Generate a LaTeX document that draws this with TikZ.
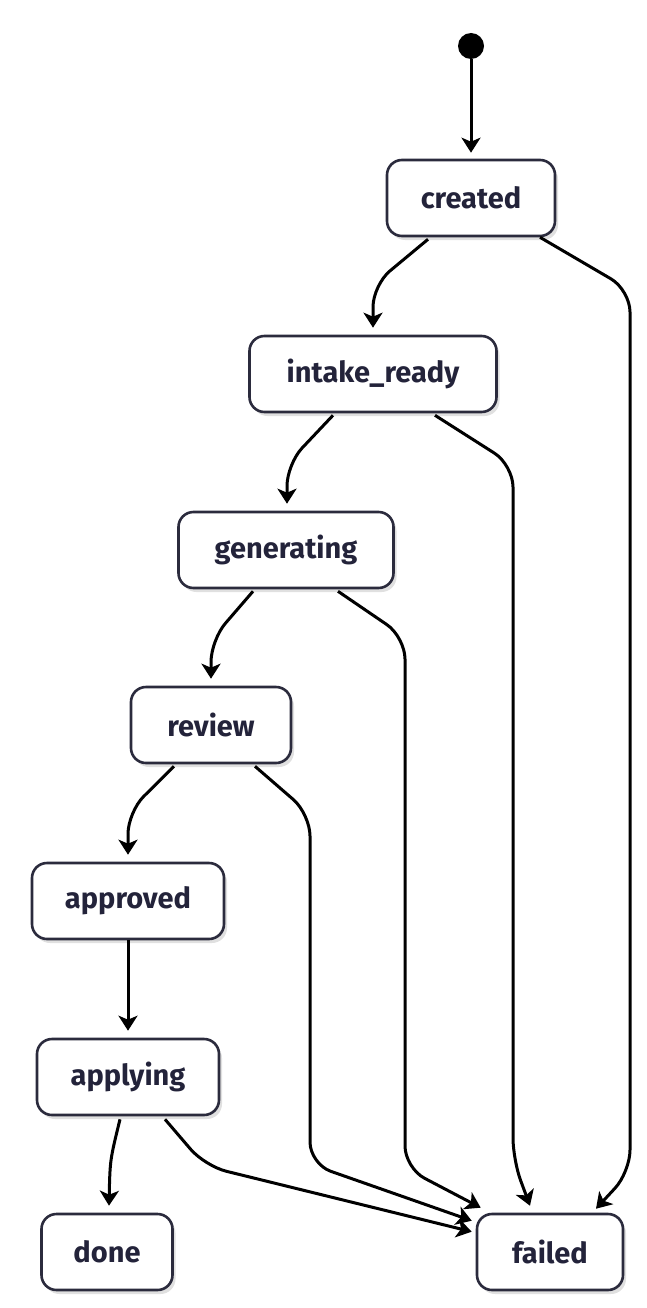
\documentclass[tikz,border=0pt]{standalone}
\usepackage{fontspec}
\setmainfont{Fira Sans}
\usetikzlibrary{arrows.meta}
\usetikzlibrary{calc}
\usetikzlibrary{shadows}

\definecolor{stateline}{HTML}{2B2B3D}
\definecolor{statetext}{HTML}{23233A}
\tikzset{
  state/.style={draw=stateline, line width=2.6pt, fill=white, rounded corners=15pt,
    minimum height=76pt, inner sep=0pt, text=statetext,
    font=\fontsize{29}{34}\selectfont\bfseries,
    drop shadow={shadow xshift=3pt, shadow yshift=-4pt, opacity=0.12, fill=black}},
  startdot/.style={circle, fill=black, minimum size=26pt, inner sep=0pt},
  trans/.style={line width=3pt, rounded corners=22pt,
    -{Stealth[length=15pt, width=19pt, inset=4pt]}},
}

\begin{document}
\begin{tikzpicture}[x=1pt, y=-1pt]
\useasboundingbox (0,0) rectangle (646,1308); % whole page
\node[startdot] (start) at (471,46) {};
\node[state, minimum width=168pt] (created) at (471,198) {created};
\node[state, minimum width=247pt] (intake) at (373,374) {intake\_ready};
\node[state, minimum width=215pt] (generating) at (286,550) {generating};
\node[state, minimum width=160pt] (review) at (211,725) {review};
\node[state, minimum width=192pt] (approved) at (128,901) {approved};
\node[state, minimum width=182pt] (applying) at (128,1077) {applying};
\node[state, minimum width=131pt] (done) at (107,1252) {done};
\node[state, minimum width=146pt] (failed) at (550,1252) {failed};

% main line
\draw[trans] (start) -- ($(created.north)+(0,-6)$);
\draw[trans] ($(created.south)+(-43,2)$) -- (373,285) -- ($(intake.north)+(0,-7)$);
\draw[trans] ($(intake.south)+(-40,2)$) -- (287,464) -- ($(generating.north)+(1,-7)$);
\draw[trans] ($(generating.south)+(-33,2)$) -- (211,640) -- ($(review.north)+(0,-7)$);
\draw[trans] ($(review.south)+(-37,2)$) -- (128,812) -- ($(approved.north)+(0,-7)$);
\draw[trans] (approved) -- ($(applying.north)+(0,-7)$);
\draw[trans] ($(applying.south)+(-8,3)$) .. controls (110,1160) .. ($(done.north)+(2,-7)$);

% to failed
\draw[trans] ($(created.south)+(69,0)$) -- (630,290) -- (630,1172) -- ($(failed.north)+(46,-4)$);
\draw[trans] ($(intake.south)+(62,2)$) -- (513,465) -- (513,1160) -- ($(failed.north)+(-20,-7)$);
\draw[trans] ($(generating.south)+(52,2)$) -- (405,637) -- (405,1168) -- ($(failed.north west)+(5,-5)$);
\draw[trans] ($(review.south)+(44,2)$) -- (310,814) -- (310,1164) -- ($(failed.north west)+(-4,8)$);
\draw[trans] ($(applying.south)+(37,3)$) -- (205,1166) -- ($(failed.north west)+(-4,19)$);
\end{tikzpicture}
\end{document}
